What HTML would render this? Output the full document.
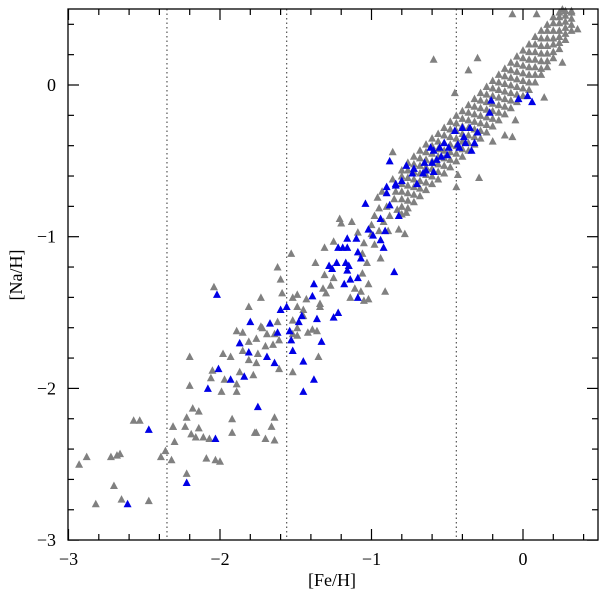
<!DOCTYPE html>
<html><head><meta charset="utf-8"><style>
html,body{margin:0;padding:0;background:#fff;}
svg{display:block;}
text{font-family:"Liberation Serif",serif;font-size:18px;fill:#000;}
</style></head><body>
<svg id="chart" width="600" height="598" viewBox="0 0 600 598" xmlns="http://www.w3.org/2000/svg"></svg>
<script>
const xTicks = [-3, -2, -1, 0];
const xTickLabels = ["−3", "−2", "−1", "0"];
const yTicks = [-3, -2, -1, 0];
const yTickLabels = ["−3", "−2", "−1", "0"];
const dividerFe = [-2.35, -1.56, -0.44];
const grayStars = [
[-2.93,-2.50],[-2.88,-2.45],[-2.72,-2.45],[-2.68,-2.44],[-2.66,-2.43],[-2.82,-2.76],[-2.70,-2.64],[-2.65,-2.73],[-2.47,-2.74],
[-2.39,-2.45],[-2.36,-2.41],[-2.32,-2.47],[-2.57,-2.21],[-2.53,-2.21],[-2.31,-2.25],[-2.30,-2.35],[-2.22,-2.56],[-2.19,-2.30],
[-2.16,-2.32],[-2.11,-2.32],[-2.07,-2.33],[-2.09,-2.46],[-2.03,-2.47],[-2.00,-2.48],[-1.92,-2.29],[-1.77,-2.29],[-1.70,-2.33],
[-1.64,-2.34],[-2.23,-2.25],[-2.14,-2.26],
[-2.04,-1.33],[-2.20,-1.79],[-2.20,-1.98],[-2.18,-2.13],[-2.14,-2.15],[-2.22,-2.19],[-2.31,-2.25],[-1.98,-1.77],[-1.93,-1.79],
[-2.05,-1.88],[-2.06,-1.93],[-1.97,-1.94],[-1.99,-2.02],[-1.89,-1.97],[-1.87,-1.89],[-1.78,-1.91],[-1.89,-2.02],[-1.92,-2.20],
[-1.81,-1.46],[-1.73,-1.40],[-1.89,-1.62],[-1.85,-1.63],[-1.81,-1.69],[-1.85,-1.75],[-1.81,-1.81],[-1.76,-1.83],[-1.75,-1.77],
[-1.76,-1.67],[-1.73,-1.59],[-1.72,-1.60],[-1.69,-1.64],[-1.70,-1.72],[-1.65,-1.71],[-1.64,-1.64],[-1.61,-1.68],[-1.62,-1.56],
[-1.62,-1.20],[-1.60,-1.28],[-1.59,-1.37],[-1.61,-1.87],[-1.64,-2.19],[-1.66,-2.25],[-1.76,-2.29],[-1.53,-1.11],[-1.52,-1.40],
[-1.49,-1.38],[-1.49,-1.46],[-1.52,-1.55],[-1.52,-1.64],[-1.49,-1.60],[-1.49,-1.65],[-1.52,-1.89],[-1.45,-1.48],[-1.43,-1.41],
[-1.45,-1.52],[-1.42,-1.63],[-1.39,-1.61],[-1.36,-1.62],[-1.35,-1.79],[-1.37,-1.17],[-1.34,-1.44],[-1.34,-1.46],[-1.32,-1.34],
[-1.30,-1.37],[-1.31,-1.07],[-1.25,-1.03],[-1.27,-1.32],[-1.25,-1.27],[-1.31,-1.25],[-1.21,-0.88],[-1.20,-0.91],[-1.13,-0.90],
[-1.09,-0.97],[-1.14,-1.40],[-1.11,-1.34],[-1.07,-1.36],[-1.05,-1.42],[-1.02,-1.41],[-1.06,-1.24],[-1.02,-1.31],[-1.03,-1.17],
[-1.06,-1.11],[-1.05,-1.04],[-1.00,-0.92],[-0.98,-1.05],[-0.95,-0.96],[-0.91,-1.36],[-0.94,-1.14],[-0.89,-0.96],[-0.96,-0.74],
[-0.95,-0.81],[-0.77,-0.84],
[-0.59,0.17],[-0.30,0.18],[-0.36,0.10],[-0.07,0.47],[0.09,0.47],[0.26,0.50],[0.32,0.49],[0.36,0.37],[-0.86,-0.44],[-0.45,-0.05],
[-0.29,-0.61],[-0.44,-0.67],[-0.43,-0.59],[-0.12,-0.33],[-0.07,-0.34],[-0.05,-0.23],[-0.20,-0.37],[0.14,-0.08],[0.26,0.15],
[-0.90,-0.80],[-0.85,-0.75],[-0.92,-0.90],[-0.82,-0.95],[-0.78,-0.98],[-0.88,-0.86],[-0.84,-0.70],[-0.86,-0.62],[-0.83,-0.82],
[-0.98,-0.86],[-1.00,-0.98],[-0.93,-0.70]
];
const denseFe = [-0.80,-0.76,-0.72,-0.68,-0.64,-0.60,-0.56,-0.52,-0.48,-0.44,-0.40,-0.36,-0.32,-0.28,-0.24,-0.20,-0.16,-0.12,-0.08,-0.04,0.00,0.04,0.08,0.12,0.16,0.20,0.24,0.28,0.32];
const denseNa = [
[-0.85,-0.80,-0.75,-0.70,-0.65,-0.60,-0.56],
[-0.81,-0.76,-0.71,-0.66,-0.61,-0.56,-0.51],
[-0.77,-0.72,-0.67,-0.62,-0.57,-0.52,-0.47],
[-0.73,-0.68,-0.63,-0.58,-0.53,-0.48,-0.43],
[-0.69,-0.64,-0.59,-0.54,-0.49,-0.44,-0.39],
[-0.65,-0.60,-0.55,-0.50,-0.45,-0.40,-0.35],
[-0.62,-0.57,-0.52,-0.47,-0.42,-0.37,-0.32],
[-0.58,-0.53,-0.48,-0.43,-0.38,-0.33,-0.28],
[-0.54,-0.49,-0.44,-0.39,-0.34,-0.29,-0.24],
[-0.50,-0.45,-0.40,-0.35,-0.30,-0.25,-0.20],
[-0.47,-0.42,-0.37,-0.32,-0.27,-0.22,-0.17],
[-0.43,-0.38,-0.33,-0.28,-0.23,-0.18,-0.13],
[-0.39,-0.34,-0.29,-0.24,-0.19,-0.14,-0.09],
[-0.35,-0.30,-0.25,-0.20,-0.15,-0.10,-0.05],
[-0.31,-0.26,-0.21,-0.16,-0.11,-0.06,-0.01],
[-0.27,-0.22,-0.17,-0.12,-0.07,-0.02,0.03],
[-0.23,-0.18,-0.13,-0.08,-0.03,0.02,0.07],
[-0.19,-0.14,-0.09,-0.04,0.01,0.06,0.11],
[-0.15,-0.10,-0.05,0.00,0.05,0.10,0.15],
[-0.11,-0.06,-0.01,0.04,0.09,0.14,0.19],
[-0.07,-0.02,0.03,0.08,0.13,0.18,0.23],
[-0.03,0.02,0.07,0.12,0.17,0.22,0.27],
[0.02,0.07,0.12,0.17,0.22,0.27,0.32],
[0.07,0.11,0.16,0.21,0.26,0.31,0.36],
[0.12,0.16,0.21,0.26,0.31,0.36,0.40],
[0.18,0.22,0.27,0.31,0.36,0.41,0.45],
[0.24,0.28,0.32,0.36,0.41,0.45,0.48],
[0.30,0.34,0.38,0.42,0.46,0.49],
[0.36,0.40,0.44,0.48]
];
const blueStars = [
[-2.47,-2.27],[-2.61,-2.76],[-2.22,-2.62],[-2.03,-2.33],
[-2.02,-1.38],[-2.08,-2.00],[-2.01,-1.87],[-1.93,-1.94],[-1.84,-1.92],[-1.75,-2.12],[-1.87,-1.70],[-1.81,-1.76],[-1.80,-1.56],
[-1.69,-1.79],[-1.64,-1.83],[-1.67,-1.57],[-1.62,-1.63],[-1.60,-1.48],[-1.56,-1.46],[-1.54,-1.62],[-1.53,-1.68],[-1.52,-1.75],
[-1.48,-1.56],[-1.46,-1.52],[-1.45,-1.82],[-1.45,-2.02],[-1.38,-1.94],[-1.36,-1.54],[-1.33,-1.69],[-1.38,-1.31],[-1.39,-1.39],
[-1.25,-1.53],[-1.22,-1.50],[-1.18,-1.31],[-1.14,-1.28],[-1.09,-1.27],[-1.09,-1.40],[-1.28,-1.19],[-1.26,-1.21],[-1.23,-1.17],
[-1.17,-1.17],[-1.15,-1.19],[-1.16,-1.22],[-1.22,-1.07],[-1.19,-1.07],[-1.16,-1.07],[-1.16,-1.01],[-1.10,-1.01],[-1.09,-1.10],
[-1.07,-1.14],[-1.02,-0.95],[-0.99,-0.99],[-0.94,-1.02],[-0.92,-1.07],[-0.91,-0.96],[-0.94,-0.88],[-0.85,-1.23],[-1.04,-0.78],
[-0.90,-0.71],[-0.88,-0.79],[-0.82,-0.86],[-0.84,-0.66],
[-0.21,-0.10],[-0.22,-0.18],[-0.03,-0.09],[0.03,-0.07],[0.06,-0.11],[-0.45,-0.30],[-0.40,-0.28],[-0.35,-0.28],[-0.30,-0.31],
[-0.32,-0.38],[-0.34,-0.43],[-0.39,-0.34],[-0.38,-0.38],[-0.43,-0.39],[-0.42,-0.41],[-0.49,-0.41],[-0.52,-0.38],[-0.55,-0.41],
[-0.61,-0.41],[-0.59,-0.43],[-0.54,-0.47],[-0.50,-0.46],[-0.65,-0.51],[-0.60,-0.51],[-0.57,-0.49],[-0.77,-0.53],[-0.72,-0.55],
[-0.64,-0.56],[-0.59,-0.57],[-0.73,-0.58],[-0.66,-0.58],[-0.80,-0.63],[-0.84,-0.65],[-0.70,-0.65],[-0.88,-0.50],[-0.90,-0.67]
];

const L = 68, R = 598, T = 9, B = 540;
const xS = v => 523 + v * 151.5;
const yS = v => 85 - v * 151.7;
const NS = "http://www.w3.org/2000/svg";
const svg = document.getElementById('chart');
function mk(tag, attrs, parent) {
  const e = document.createElementNS(NS, tag);
  for (const k in attrs) e.setAttribute(k, attrs[k]);
  (parent || svg).appendChild(e);
  return e;
}
dividerFe.forEach(f => {
  const l = mk('line', {x1: xS(f), x2: xS(f), y1: T, y2: B, stroke: '#555', 'stroke-width': 1.2, 'stroke-dasharray': '1.5,3'});
  
  
});
function tri(f, n, color, name) {
  const x = xS(f), y = yS(n);
  const p = mk('polygon', {points: `${x-4},${y+3.5} ${x+4},${y+3.5} ${x},${y-4}`, fill: color});
  
  
}
grayStars.forEach(d => tri(d[0], d[1], '#808080', 'gray-star-point'));
denseFe.forEach((f, i) => denseNa[i].forEach(n => tri(f, n, '#808080', 'gray-star-point')));
blueStars.forEach(d => tri(d[0], d[1], '#0000e6', 'blue-star-point'));
const fr = mk('rect', {x: L, y: T, width: R - L, height: B - T, fill: 'none', stroke: '#000', 'stroke-width': 1.3});


for (let i = -15; i <= 2; i++) {
  const v = i * 0.2, x = xS(v);
  if (x < L - 0.5 || x > R + 0.5) continue;
  const major = Math.abs(v - Math.round(v)) < 1e-6;
  const len = major ? 11 : 6;
  mk('line', {x1: x, x2: x, y1: B, y2: B - len, stroke: '#000', 'stroke-width': 1.2});
  mk('line', {x1: x, x2: x, y1: T, y2: T + len, stroke: '#000', 'stroke-width': 1.2});
}
for (let i = -15; i <= 3; i++) {
  const v = i * 0.2, y = yS(v);
  if (y < T - 0.5 || y > B + 0.5) continue;
  const major = Math.abs(v - Math.round(v)) < 1e-6;
  const len = major ? 11 : 6;
  mk('line', {x1: L, x2: L + len, y1: y, y2: y, stroke: '#000', 'stroke-width': 1.2});
  mk('line', {x1: R, x2: R - len, y1: y, y2: y, stroke: '#000', 'stroke-width': 1.2});
}
xTicks.forEach((v, i) => {
  const t = mk('text', {x: xS(v), y: 565, 'text-anchor': 'middle'});
  t.textContent = xTickLabels[i];
  
  
});
yTicks.forEach((v, i) => {
  const t = mk('text', {x: 56, y: yS(v) + 6, 'text-anchor': 'end'});
  t.textContent = yTickLabels[i];
  
  
});
const xt = mk('text', {x: 332, y: 586, 'text-anchor': 'middle'});
xt.textContent = '[Fe/H]';


const yt = mk('text', {x: 0, y: 0, 'text-anchor': 'middle', transform: 'translate(22,275) rotate(-90)'});
yt.textContent = '[Na/H]';


</script>
</body></html>
